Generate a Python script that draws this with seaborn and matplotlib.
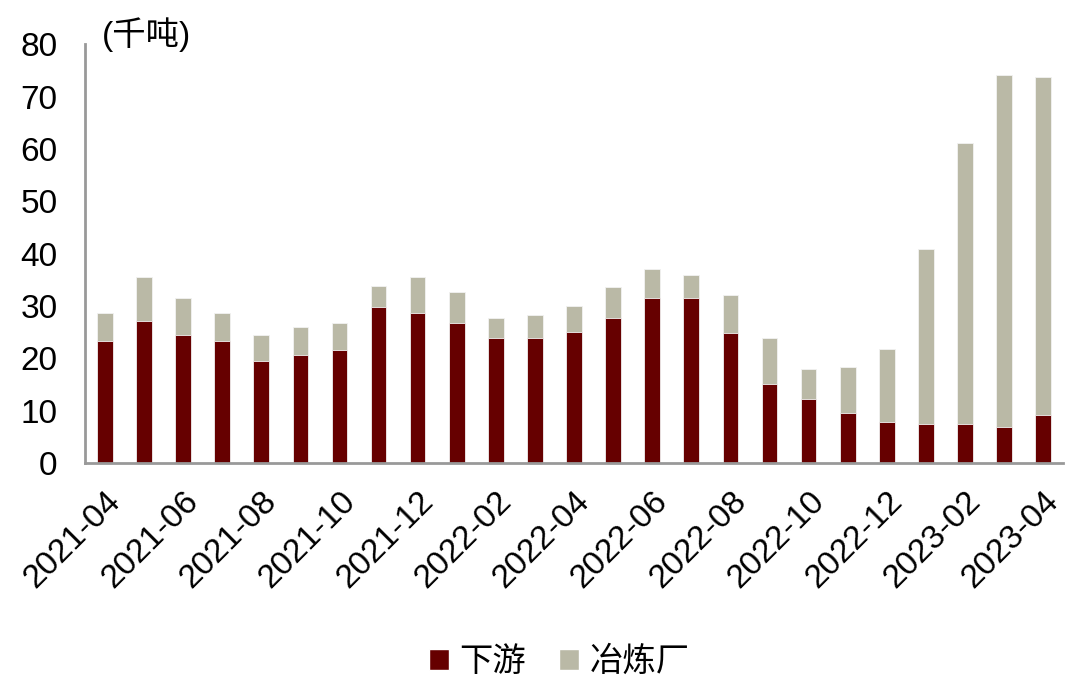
import numpy as np
import pandas as pd
import matplotlib
matplotlib.use('Agg')
import matplotlib.pyplot as plt
import seaborn as sns
from matplotlib.patches import Patch

# ── data (千吨) ───────────────────────────────────────────────────────────────
months = [
    "2021-04", "2021-05", "2021-06", "2021-07", "2021-08", "2021-09", "2021-10",
    "2021-11", "2021-12", "2022-01", "2022-02", "2022-03", "2022-04", "2022-05",
    "2022-06", "2022-07", "2022-08", "2022-09", "2022-10", "2022-11", "2022-12",
    "2023-01", "2023-02", "2023-03", "2023-04",
]
downstream = [23.3, 27.1, 24.4, 23.3, 19.5, 20.6, 21.6, 29.8, 28.7, 26.7, 23.9,
              23.9, 25.0, 27.7, 31.5, 31.5, 24.9, 15.1, 12.3, 9.6, 7.9, 7.4,
              7.4, 6.8, 9.1]
smelter = [5.4, 8.4, 7.1, 5.4, 4.9, 5.4, 5.1, 4.0, 6.8, 5.9, 3.8,
           4.3, 5.0, 6.0, 5.5, 4.4, 7.2, 8.7, 5.6, 8.8, 13.8, 33.4,
           53.7, 67.4, 64.6]

df = pd.DataFrame({"month": months, "下游": downstream, "冶炼厂": smelter})
df["total"] = df["下游"] + df["冶炼厂"]

RED = "#660000"
GREY = "#BAB9A6"
AXIS = "#999999"
FS = 24

sns.set_style("white")
plt.rcParams['font.family'] = ['Liberation Sans', 'Noto Sans CJK SC', 'DejaVu Sans']
plt.rcParams['text.color'] = 'black'
plt.rcParams['xtick.labelcolor'] = 'black'
plt.rcParams['ytick.labelcolor'] = 'black'

fig = plt.figure(figsize=(10.8, 6.9), dpi=100)
ax = fig.add_axes([0.079, 0.329, 0.905, 0.607])

sns.barplot(data=df, x="month", y="total", color=GREY, width=0.4,
            edgecolor="#f2f2f2", linewidth=0.6, saturation=1, ax=ax)
sns.barplot(data=df, x="month", y="下游", color=RED, width=0.4,
            edgecolor="#f2f2f2", linewidth=0.6, saturation=1, ax=ax)

ax.set_xlim(-0.5, len(months) - 0.5)
ax.set_ylim(0, 80)
ax.set_yticks(range(0, 81, 10))
ax.set_xlabel(""); ax.set_ylabel("")

# labels every other month, tick marks at category boundaries
idx = np.arange(0, len(months), 2)
ax.set_xticks(idx)
ax.set_xticklabels([months[i] for i in idx], rotation=45, ha="right",
                   rotation_mode="anchor", fontsize=FS, color="black")
ax.set_xticks(np.arange(-0.5, len(months) - 1, 2), minor=True)
ax.tick_params(axis="x", which="major", length=0, pad=16)
ax.tick_params(axis="x", which="minor", length=8, width=2, color=AXIS,
               direction="out")
ax.tick_params(axis="y", length=0, labelsize=FS, pad=20, labelcolor="black")

for s in ["top", "right"]:
    ax.spines[s].set_visible(False)
for s in ["left", "bottom"]:
    ax.spines[s].set_color(AXIS)
    ax.spines[s].set_linewidth(2)

fig.text(0.094, 0.95, "(千吨)", fontsize=FS, va="center", ha="left", color="black")

handles = [Patch(facecolor=RED, label="下游"), Patch(facecolor=GREY, label="冶炼厂")]
fig.legend(handles=handles, loc="center", bbox_to_anchor=(0.518, 0.04), ncol=2,
           frameon=False, fontsize=FS, handlelength=0.6, handleheight=0.6,
           handletextpad=0.3, columnspacing=1.0, labelcolor="black")

plt.savefig("out.png", dpi=100)
